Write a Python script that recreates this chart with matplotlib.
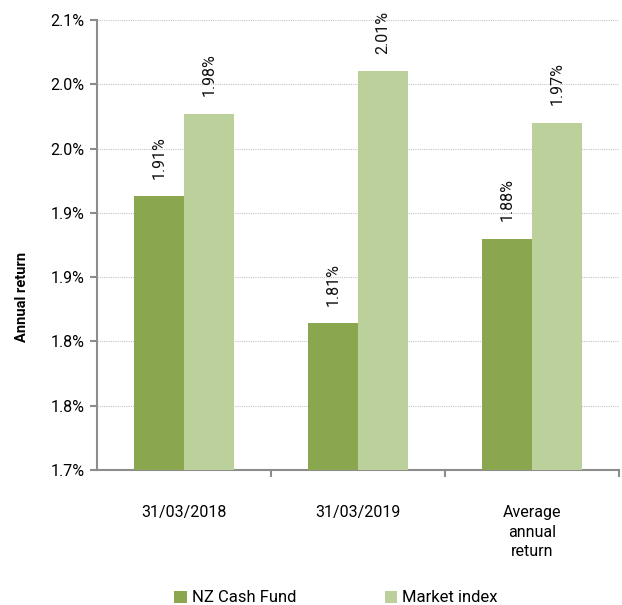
import numpy as np
import matplotlib.pyplot as plt

plt.rcParams['font.family'] = ['Roboto', 'DejaVu Sans']

categories = ["31/03/2018", "31/03/2019", "Average\nannual\nreturn"]
nz_cash = [1.913, 1.814, 1.880]
market = [1.977, 2.010, 1.970]
series_names = ["NZ Cash Fund", "Market index"]
y_ticks = [1.70, 1.75, 1.80, 1.85, 1.90, 1.95, 2.00, 2.05]
y_tick_labels = ["1.7%", "1.8%", "1.8%", "1.9%", "1.9%", "2.0%", "2.0%", "2.1%"]

dark = '#8aa64f'
light = '#bbd09a'
axis_col = '#8c8c8c'

fig = plt.figure(figsize=(6.22, 6.05), dpi=100)
ax = fig.add_axes([97/622, 1 - 470/605, 522/622, 450/605])

x = np.arange(len(categories))
w = 0.285
b1 = ax.bar(x - w/2, np.array(nz_cash) - 1.70, w, bottom=1.70, color=dark, label=series_names[0], zorder=3)
b2 = ax.bar(x + w/2, np.array(market) - 1.70, w, bottom=1.70, color=light, label=series_names[1], zorder=3)

for bars, vals in ((b1, nz_cash), (b2, market)):
    for r, v in zip(bars, vals):
        ax.annotate(f"{v:.2f}%", (r.get_x() + r.get_width()/2, v), xytext=(0, 12.5),
                    textcoords='offset points', rotation=90, ha='center', va='bottom',
                    fontsize=11.5, color='#111111')

ax.set_xlim(-0.5, 2.5)
ax.set_ylim(1.70, 2.05)
ax.set_yticks(y_ticks)
ax.set_yticklabels(y_tick_labels, fontsize=11.5)
ax.set_xticks(x)
ax.set_xticklabels(categories, fontsize=11.5, linespacing=1.4)
ax.tick_params(axis='x', length=0, pad=25)
ax.tick_params(axis='y', length=5, color=axis_col, width=1.5, pad=4)

# boundary ticks between categories
ax.set_xticks([0.5, 1.5, 2.5], minor=True)
ax.tick_params(axis='x', which='minor', length=5, color=axis_col, width=1.5)

for yv in y_ticks[1:]:
    ax.axhline(yv, color='#c4c4c4', linestyle=(0, (1, 1)), linewidth=0.8, zorder=1)

for s in ['top', 'right']:
    ax.spines[s].set_visible(False)
for s in ['left', 'bottom']:
    ax.spines[s].set_color(axis_col)
    ax.spines[s].set_linewidth(1.5)

fig.text(22/622, 1 - 297/605, "Annual return", rotation=90, ha='center', va='center',
         fontsize=10.5, fontweight='bold')

fig.legend(handles=[b1, b2], labels=series_names, loc='center', ncol=2,
           bbox_to_anchor=(336/622, 1 - 598/605), frameon=False, fontsize=12,
           handlelength=0.75, handleheight=0.75, handletextpad=0.3, columnspacing=5.3)

fig.savefig('out.png', dpi=100)
